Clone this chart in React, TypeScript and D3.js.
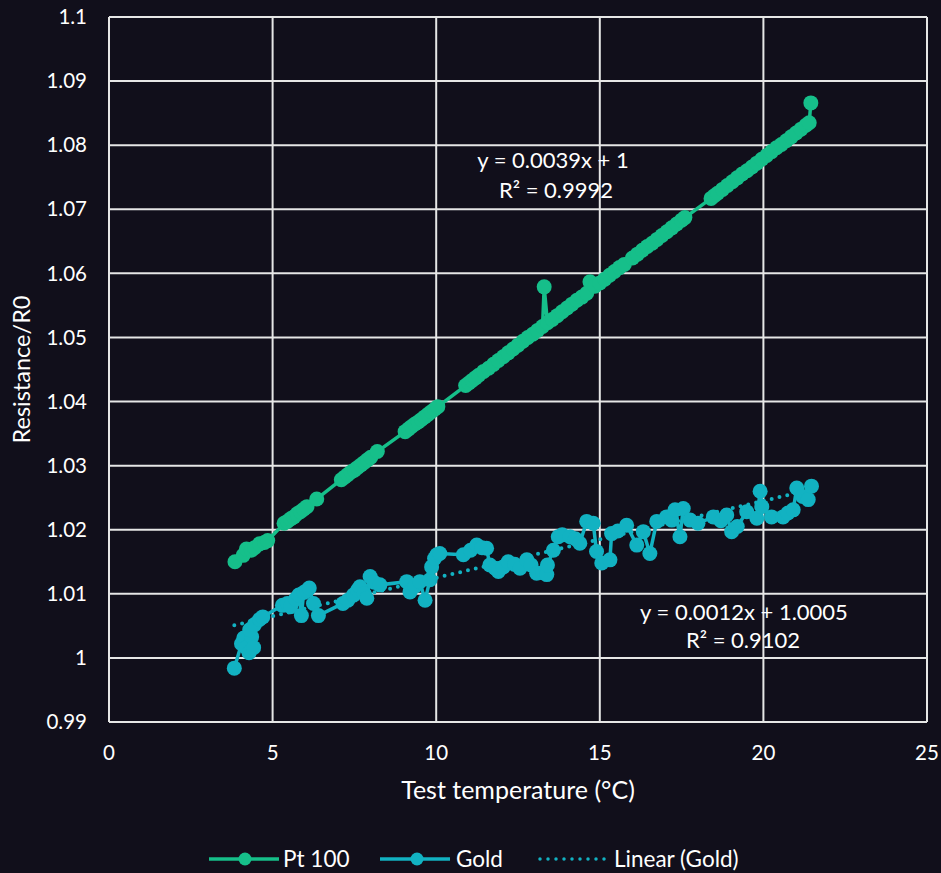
import React from 'react';
import * as d3 from 'd3';

// Pt 100 readings (temperature °C, resistance / R0)
const ptTemp = [
  3.85, 4.1, 4.2, 4.35, 4.45, 4.6, 4.75, 4.85,
  5.35, 5.45, 5.55, 5.65, 5.75, 5.85, 5.95, 6.05, 6.35,
  7.1, 7.2, 7.3, 7.4, 7.5, 7.6, 7.7, 7.8, 7.9, 8.0, 8.2,
  9.05, 9.15, 9.25, 9.35, 9.45, 9.55, 9.65, 9.75, 9.85, 9.95, 10.05,
  10.9, 11.0, 11.1, 11.2, 11.3, 11.45, 11.6, 11.75, 11.9, 12.05, 12.2, 12.35, 12.5, 12.65, 12.8, 12.95,
  13.1, 13.25, 13.3, 13.4, 13.55, 13.7, 13.85, 14.0, 14.15, 14.3, 14.45, 14.6, 14.7, 14.85,
  15.0, 15.15, 15.3, 15.45, 15.6, 15.75, 16.0, 16.15, 16.3, 16.45, 16.6, 16.75, 16.9, 17.05, 17.2, 17.35, 17.5, 17.6,
  18.4, 18.5, 18.6, 18.75, 18.9, 19.05, 19.2, 19.35, 19.5, 19.65, 19.8, 19.95, 20.1, 20.25, 20.4, 20.55, 20.7, 20.85,
  21.0, 21.15, 21.3, 21.4, 21.45,
];
const ptRatio = [
  1.015, 1.016, 1.017, 1.0168, 1.0172, 1.0178, 1.018, 1.0183,
  1.021, 1.0213, 1.0217, 1.022, 1.0225, 1.0228, 1.0232, 1.0236, 1.0248,
  1.0278, 1.0282, 1.0286, 1.029, 1.0293, 1.0297, 1.0301, 1.0305, 1.0309, 1.0313, 1.0322,
  1.0353, 1.0357, 1.0361, 1.0365, 1.0368, 1.0372, 1.0376, 1.038, 1.0384, 1.0388, 1.0392,
  1.0425, 1.0429, 1.0433, 1.0437, 1.0441, 1.0447, 1.0452, 1.0458, 1.0464, 1.047, 1.0476, 1.0482, 1.0488, 1.0494, 1.05, 1.0505,
  1.0511, 1.0517, 1.0579, 1.0523, 1.0528, 1.0534, 1.054, 1.0546, 1.0552, 1.0558, 1.0563, 1.0569, 1.0587, 1.058,
  1.0585, 1.0591, 1.0597, 1.0603, 1.0609, 1.0614, 1.0624, 1.063, 1.0636, 1.0642, 1.0647, 1.0653, 1.0659, 1.0665, 1.0671, 1.0677, 1.0683, 1.0687,
  1.0717, 1.0721, 1.0725, 1.0731, 1.0737, 1.0743, 1.0749, 1.0755, 1.076, 1.0766, 1.0772, 1.0778, 1.0784, 1.079, 1.0796, 1.0801, 1.0807, 1.0813,
  1.0819, 1.0825, 1.0831, 1.0835, 1.0866,
];

// Gold readings
const goldTemp = [
  3.83, 4.05, 4.12, 4.2, 4.28, 4.36, 4.42, 4.3, 4.45, 4.6, 4.7,
  5.3, 5.45, 5.55, 5.7, 5.8, 5.88, 5.95, 6.05, 6.12, 6.25, 6.4,
  7.15, 7.3, 7.47, 7.6, 7.67, 7.8, 7.88, 7.98, 8.1, 8.28,
  9.1, 9.2, 9.35, 9.5, 9.66, 9.81, 9.86, 9.95, 10.02, 10.11,
  10.83, 11.05, 11.24, 11.4, 11.54, 11.64, 11.8, 11.9, 12.05, 12.2, 12.4, 12.56, 12.77, 12.9,
  13.07, 13.25, 13.38, 13.4, 13.58, 13.73, 13.85, 14.09, 14.25, 14.39, 14.6, 14.8, 14.9,
  15.06, 15.31, 15.36, 15.55, 15.82, 16.13, 16.33, 16.53, 16.74, 17.04, 17.2, 17.3, 17.45, 17.55, 17.76,
  18.0, 18.47, 18.7, 18.88, 19.03, 19.2, 19.49, 19.8, 19.9, 19.95,
  20.25, 20.6, 20.75, 20.91, 21.02, 21.2, 21.37, 21.47,
];
const goldRatio = [
  0.9984, 1.0022, 1.0031, 1.0016, 1.0008, 1.0033, 1.0016, 1.0044, 1.0052, 1.006, 1.0064,
  1.0082, 1.0085, 1.008, 1.0092, 1.0098, 1.0066, 1.0102, 1.0105, 1.0109, 1.0085, 1.0066,
  1.0085, 1.009, 1.0098, 1.0106, 1.0111, 1.01, 1.0093, 1.0127, 1.0118, 1.0114,
  1.0119, 1.0103, 1.0112, 1.0119, 1.009, 1.0122, 1.0142, 1.0155, 1.0161, 1.0163,
  1.0161, 1.0168, 1.0176, 1.0172, 1.0171, 1.0145, 1.014, 1.0135, 1.0142, 1.015, 1.0146, 1.014, 1.0153, 1.0145,
  1.0132, 1.0133, 1.013, 1.0145, 1.0168, 1.0189, 1.0192, 1.0189, 1.0186, 1.0179, 1.0213, 1.021, 1.0166,
  1.0148, 1.0153, 1.0194, 1.0198, 1.0207, 1.0176, 1.0197, 1.0163, 1.0213, 1.022, 1.0215, 1.0231, 1.0189, 1.0233, 1.0215,
  1.021, 1.022, 1.0214, 1.0223, 1.0197, 1.0205, 1.0228, 1.0218, 1.026, 1.0236,
  1.022, 1.022, 1.0226, 1.0231, 1.0265, 1.0252, 1.0247, 1.0268,
];

// Linear trend shown on the chart for Gold
const goldSlope = 0.0012;
const goldIntercept = 1.0005;

const xTicks = [0, 5, 10, 15, 20, 25];
const yTicks = [0.99, 1, 1.01, 1.02, 1.03, 1.04, 1.05, 1.06, 1.07, 1.08, 1.09, 1.1];

const BG = '#110f1b';
const GREEN = '#16bf8a';
const TEAL = '#12b2c2';
const GRID = '#e6e6e6';
const FONT = 'Lato, "Open Sans", sans-serif';

const W = 941;
const H = 873;
const margin = { top: 17, right: 14, bottom: 151, left: 109 };
const innerW = W - margin.left - margin.right;
const innerH = H - margin.top - margin.bottom;

const x = d3.scaleLinear().domain([0, 25]).range([0, innerW]);
const y = d3.scaleLinear().domain([0.99, 1.1]).range([innerH, 0]);

const line = d3.line<[number, number]>().x(d => x(d[0])).y(d => y(d[1]));

const ptPoints: [number, number][] = ptTemp.map((t, i) => [t, ptRatio[i]]);
const goldPoints: [number, number][] = goldTemp.map((t, i) => [t, goldRatio[i]]);

const trendX = d3.extent(goldTemp) as [number, number];
const trendPoints: [number, number][] = trendX.map(t => [t, goldSlope * t + goldIntercept] as [number, number]);

function fmtY(v: number) {
  return String(+v.toFixed(2));
}

export default function App() {
  return (
    <svg width={W} height={H} style={{ display: 'block', position: 'absolute', left: 0, top: 0, background: BG }}>
      <rect width={W} height={H} fill={BG} />
      <g transform={`translate(${margin.left},${margin.top})`} fontFamily={FONT}>
        {/* grid */}
        {yTicks.map(t => (
          <line key={'gy' + t} x1={0} x2={innerW} y1={y(t)} y2={y(t)} stroke={GRID} strokeWidth={2} />
        ))}
        {xTicks.map(t => (
          <line key={'gx' + t} x1={x(t)} x2={x(t)} y1={0} y2={innerH} stroke={GRID} strokeWidth={2} />
        ))}

        {/* tick labels */}
        {yTicks.map(t => (
          <text key={'ly' + t} x={-22} y={y(t)} dy="0.35em" textAnchor="end" fill="#fff" fontSize={20.5}>
            {fmtY(t)}
          </text>
        ))}
        {xTicks.map(t => (
          <text key={'lx' + t} x={x(t)} y={innerH + 38} textAnchor="middle" fill="#fff" fontSize={20.5}>
            {t}
          </text>
        ))}

        {/* axis titles */}
        <text x={innerW / 2} y={innerH + 77} textAnchor="middle" fill="#fff" fontSize={25}>
          Test temperature (°C)
        </text>
        <text transform={`translate(${-87},${innerH / 2}) rotate(-90)`} dy="0.35em" textAnchor="middle" fill="#fff" fontSize={23.5}>
          Resistance/R0
        </text>

        {/* Pt 100 */}
        <path d={line(ptPoints) || ''} fill="none" stroke={GREEN} strokeWidth={3.5} />
        {ptPoints.map((p, i) => (
          <circle key={'pt' + i} cx={x(p[0])} cy={y(p[1])} r={7.5} fill={GREEN} />
        ))}

        {/* Gold trend */}
        <path d={line(trendPoints) || ''} fill="none" stroke={TEAL} strokeWidth={4} strokeDasharray="0 8" strokeLinecap="round" />

        {/* Gold */}
        <path d={line(goldPoints) || ''} fill="none" stroke={TEAL} strokeWidth={3.5} />
        {goldPoints.map((p, i) => (
          <circle key={'au' + i} cx={x(p[0])} cy={y(p[1])} r={7.5} fill={TEAL} />
        ))}

        {/* equations */}
        <text x={444} y={151} textAnchor="middle" fill="#fff" fontSize={22}>y = 0.0039x + 1</text>
        <text x={447} y={181} textAnchor="middle" fill="#fff" fontSize={22}>R² = 0.9992</text>
        <text x={635} y={603} textAnchor="middle" fill="#fff" fontSize={22}>y = 0.0012x + 1.0005</text>
        <text x={634} y={631} textAnchor="middle" fill="#fff" fontSize={22}>R² = 0.9102</text>
      </g>

      {/* legend */}
      <g fontFamily={FONT} fontSize={22.5} fill="#fff">
        <line x1={209} x2={279} y1={859} y2={859} stroke={GREEN} strokeWidth={3.5} />
        <circle cx={245} cy={859} r={6.5} fill={GREEN} />
        <text x={283} y={859} dy="0.35em">Pt 100</text>
        <line x1={380} x2={450} y1={859} y2={859} stroke={TEAL} strokeWidth={3.5} />
        <circle cx={417} cy={859} r={6.5} fill={TEAL} />
        <text x={456} y={859} dy="0.35em">Gold</text>
        <line x1={540} x2={607} y1={859} y2={859} stroke={TEAL} strokeWidth={3.5} strokeDasharray="0 8" strokeLinecap="round" />
        <text x={614} y={859} dy="0.35em">Linear (Gold)</text>
      </g>
    </svg>
  );
}
